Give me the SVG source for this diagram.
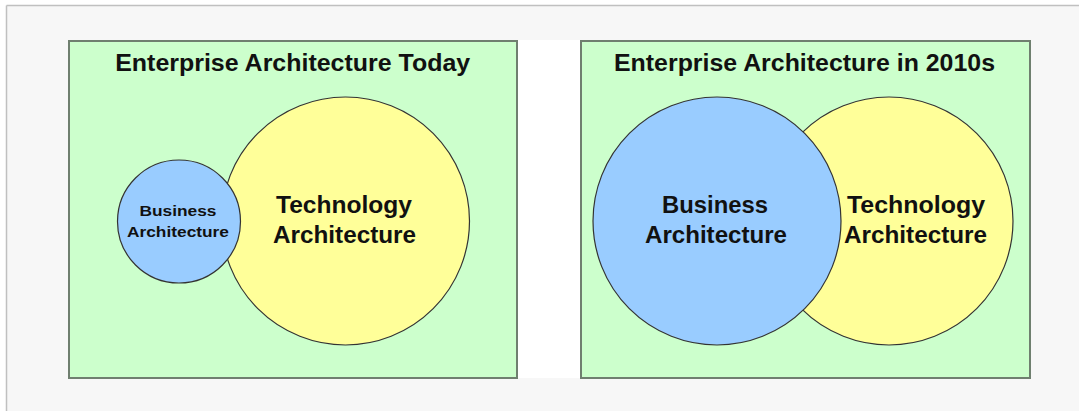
<svg xmlns="http://www.w3.org/2000/svg" width="1079" height="411" viewBox="0 0 1079 411">
<style>
.panel{fill:#ccffcc;stroke:#6f7f6f;stroke-width:2}
.biz{fill:#99ccff;stroke:#333;stroke-width:1.2}
.tech{fill:#ffff99;stroke:#333;stroke-width:1.2}
text{font-family:"Liberation Sans",Arial,sans-serif;font-weight:bold;fill:#111;text-anchor:middle}
.title{font-size:23px}
.big{font-size:23px}
.small{font-size:15.5px}
</style>
<rect x="0" y="0" width="1079" height="411" fill="#ffffff"/>
<rect x="7" y="6" width="1072" height="405" fill="#f7f7f7"/>
<line x1="6.5" y1="5.5" x2="1079" y2="5.5" stroke="#c0c0c0" stroke-width="1.5"/>
<line x1="6.5" y1="5.5" x2="6.5" y2="411" stroke="#c0c0c0" stroke-width="1.5"/>
<rect x="517" y="40" width="63" height="338" fill="#ffffff"/>
<g id="panel-today">
<rect class="panel" x="69" y="41" width="448" height="337"/>
<text class="title" x="292.7" y="71" textLength="355" lengthAdjust="spacingAndGlyphs">Enterprise Architecture Today</text>
</g>
<g id="tech-today">
<circle class="tech" cx="345.5" cy="221" r="124"/>
<text class="big" x="344" y="213" textLength="136" lengthAdjust="spacingAndGlyphs">Technology</text>
<text class="big" x="344.5" y="243" textLength="143" lengthAdjust="spacingAndGlyphs">Architecture</text>
</g>
<g id="biz-today">
<circle class="biz" cx="179" cy="221.5" r="61.5"/>
<text class="small" x="178" y="215.5" textLength="77" lengthAdjust="spacingAndGlyphs">Business</text>
<text class="small" x="178" y="236.5" textLength="102" lengthAdjust="spacingAndGlyphs">Architecture</text>
</g>
<g id="panel-2010s">
<rect class="panel" x="581" y="41" width="449" height="337"/>
<text class="title" x="804.5" y="71" textLength="381" lengthAdjust="spacingAndGlyphs">Enterprise Architecture in 2010s</text>
</g>
<g id="tech-2010s">
<circle class="tech" cx="889" cy="221" r="124"/>
<text class="big" x="916" y="213" textLength="138" lengthAdjust="spacingAndGlyphs">Technology</text>
<text class="big" x="915.5" y="243" textLength="143" lengthAdjust="spacingAndGlyphs">Architecture</text>
</g>
<g id="biz-2010s">
<circle class="biz" cx="717" cy="221" r="124"/>
<text class="big" x="715" y="213" textLength="106" lengthAdjust="spacingAndGlyphs">Business</text>
<text class="big" x="716" y="243" textLength="142" lengthAdjust="spacingAndGlyphs">Architecture</text>
</g>
<g id="connectors"/>
</svg>
